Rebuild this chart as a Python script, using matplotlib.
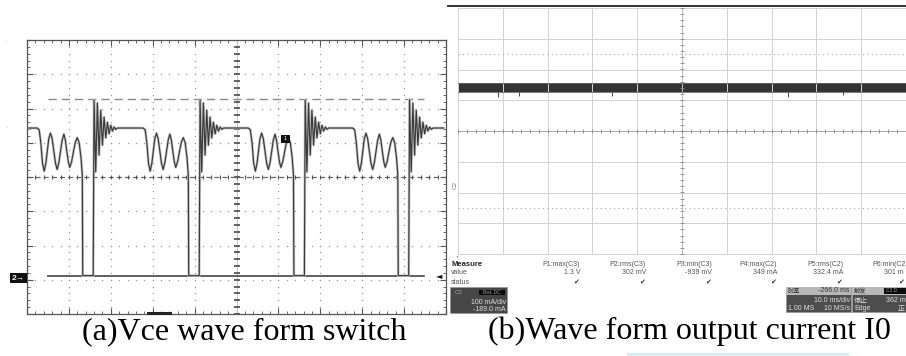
import numpy as np
import matplotlib
matplotlib.use("Agg")
import matplotlib.pyplot as plt
from matplotlib.patches import Rectangle
from matplotlib.lines import Line2D

# ============================================================
# DATA (screen divisions)
# ============================================================

# (a) Vce: spike positions and levels
spike_pos = [1.60, 4.13, 6.64, 9.13]
trace_start = 0.05
trace_end = 9.94
plateau_level = 1.43
ground_level = -2.88
cursor_level = 2.27

# ringing before the turn-on edge (relative x, level)
pre_dx = [-1.36, -1.31, -1.27, -1.23, -1.19, -1.15, -1.115, -1.08, -1.04,
          -1.00, -0.96, -0.92, -0.88, -0.84, -0.80, -0.76, -0.72, -0.685,
          -0.65, -0.615, -0.58, -0.535, -0.49, -0.445, -0.40, -0.355,
          -0.31, -0.28, -0.27, -0.02]
pre_y = [1.43, 1.38, 1.00, 0.40, 0.17, 0.40, 0.75, 1.12, 1.28,
         1.12, 0.75, 0.40, 0.22, 0.42, 0.75, 1.08, 1.25, 1.08,
         0.75, 0.45, 0.28, 0.45, 0.75, 1.02, 1.15, 1.00,
         0.55, 0.05, -2.88, -2.88]

# damped ringing after the spike (relative x, level)
post_dx = [0.0, 0.04, 0.08, 0.12, 0.16, 0.20, 0.24, 0.28, 0.32, 0.36,
           0.40, 0.44, 0.48, 0.52, 0.56]
post_y = [2.25, 0.15, 2.16, 0.64, 1.95, 0.93, 1.75, 1.14, 1.60, 1.26,
          1.51, 1.34, 1.46, 1.39, 1.43]

# (b) output current: noisy band and a few spikes
band_lo = 1.28
band_hi = 1.55
noise_spike_x = [0.90, 1.37, 3.44, 7.37, 8.60]
noise_spike_lo = [1.12, 1.15, 1.14, 1.10, 1.16]

# measure table (last column is cut by the screenshot edge)
meas_headers = ["P1:max(C3)", "P2:rms(C3)", "P3:min(C3)",
                "P4:max(C2)", "P5:rms(C2)", "P6:min(C2"]
meas_values = ["1.3 V", "302 mV", "-939 mV", "349 mA", "332.4 mA", "301 m"]

caption_a = "(a)Vce wave form switch"
caption_b = "(b)Wave form output current I0"

# ============================================================
# FIGURE
# ============================================================

W, H = 906, 356
fig = plt.figure(figsize=(W / 100, H / 100), dpi=100)
fig.patch.set_facecolor("white")

SANS = ["Liberation Sans", "DejaVu Sans"]
CJK = ["Noto Sans CJK SC", "DejaVu Sans"]


def fx(x):
    return x / W


def fy(y):
    return 1 - y / H


def rect(x0, y0, x1, y1, color, ec="none", lw=0):
    fig.patches.append(Rectangle((fx(x0), fy(y1)), (x1 - x0) / W, (y1 - y0) / H,
                                 transform=fig.transFigure, facecolor=color,
                                 edgecolor=ec, linewidth=lw))


def ftext(x, y, s, size=5, color="#555555", ha="left", va="center", family=SANS, **kw):
    fig.text(fx(x), fy(y), s, fontsize=size, color=color, ha=ha, va=va,
             family=family, **kw)


# ============================================================
# (a) Vce panel
# ============================================================

ax1 = fig.add_axes([fx(27), fy(314), (446 - 27) / W, (314 - 40) / H])
ax1.set_xlim(0, 10)
ax1.set_ylim(-4, 4)
ax1.set_xticks(range(11))
ax1.set_yticks(range(-4, 5))
ax1.set_xticks(np.arange(0, 10.01, 0.2), minor=True)
ax1.set_yticks(np.arange(-4, 4.01, 0.2), minor=True)
ax1.tick_params(which="both", direction="in", top=True, right=True,
                labelbottom=False, labelleft=False, color="#555555")
ax1.tick_params(which="major", length=4, width=0.8)
ax1.tick_params(which="minor", length=2, width=0.6)
for sp in ax1.spines.values():
    sp.set_color("#555555")
    sp.set_linewidth(0.9)

# dotted grid
fine_y = np.arange(-4, 4.01, 0.2)
fine_x = np.arange(0, 10.01, 0.2)
for gx in [1, 2, 3, 4, 6, 7, 8, 9]:
    ax1.plot([gx] * len(fine_y), fine_y, ls="none", marker="s", ms=0.9,
             color="#9a9a9a", mew=0)
for gy in [-3, -2, -1, 1, 2, 3]:
    ax1.plot(fine_x, [gy] * len(fine_x), ls="none", marker="s", ms=0.9,
             color="#9a9a9a", mew=0)

# centre cross
ax1.axvline(5, color="#c8c8c8", lw=0.8)
ax1.plot([5] * len(fine_y), fine_y, ls="none", marker="_", ms=5, mew=1.3,
         color="#555555")
ax1.axhline(0, color="#666666", lw=0.9, dashes=(4, 2.5))
ax1.plot(fine_x, [0] * len(fine_x), ls="none", marker="|", ms=3.5, mew=0.8,
         color="#555555")

# cursor and ground reference
ax1.plot([0.5, 9.47], [cursor_level, cursor_level], color="#8a8a8a", lw=1.0,
         dashes=(6, 3.5))
ax1.plot([0.5, 9.47], [ground_level, ground_level], color="#444444", lw=1.2)

# build Vce trace from the cycle templates
vx = [trace_start]
vy = [plateau_level]
for s in spike_pos:
    vx += [s + d for d in pre_dx] + [s + d for d in post_dx]
    vy += pre_y + post_y
vx.append(trace_end)
vy.append(plateau_level)
ax1.plot(vx, vy, color="#c6c6c6", lw=1.9, solid_joinstyle="round")
ax1.plot(vx, vy, color="#3a3a3a", lw=0.85)

# markers around panel (a)
rect(10, 273, 27, 283, "#111111")
ftext(18.5, 278, "2→", size=6, color="white", ha="center", weight="bold")
rect(281, 135, 290, 143, "#111111")
ftext(285.5, 139, "1", size=4, color="white", ha="center")
rect(147, 312, 172, 315, "#222222")
ftext(439, 276, "◄", size=6, color="#111111", ha="center", family=["DejaVu Sans"])
ftext(7, 40, ".", size=4, color="#888888", ha="center")
ftext(7, 127, ".", size=4, color="#888888", ha="center")

# ============================================================
# (b) output current panel
# ============================================================

ax2 = fig.add_axes([fx(458), fy(254), (906 - 458) / W, (254 - 8) / H])
ax2.set_xlim(0, 10)
ax2.set_ylim(-4, 4)
ax2.axis("off")
for gx in range(11):
    ax2.axvline(gx, color="#d2d2d2", lw=0.7, clip_on=False)
for gy in range(-4, 5):
    ax2.axhline(gy, color="#d2d2d2", lw=0.7, clip_on=False)
ax2.axhline(0, color="#a8a8a8", lw=0.7)
ax2.axvline(5, color="#bcbcbc", lw=0.7)
ax2.plot(fine_x, [0] * len(fine_x), ls="none", marker="|", ms=3, mew=0.6,
         color="#8a8a8a")
ax2.plot([5] * len(fine_y), fine_y, ls="none", marker="_", ms=3, mew=0.6,
         color="#8a8a8a")
for gy in [2.5, -2.5]:
    ax2.axhline(gy, color="#a8a8a8", lw=0.8, dashes=(1, 3))

ax2.fill_between([0.0, 10.0], [band_lo, band_lo], [band_hi, band_hi],
                 color="#333333", lw=0)
ax2.plot([0, 10], [band_hi, band_hi], color="#666666", lw=0.6)
ax2.plot([0, 10], [band_lo, band_lo], color="#666666", lw=0.6)
ax2.vlines(noise_spike_x, noise_spike_lo, [band_lo] * len(noise_spike_x),
           color="#444444", lw=0.7)

fig.lines.append(Line2D([fx(448), fx(906)], [fy(6), fy(6)], transform=fig.transFigure,
                        color="#333333", lw=1.4))
ftext(455, 185, "C2", size=4.5, color="#777777", ha="center", rotation=90)
ftext(457, 257, "+", size=4, color="#777777", ha="center")

# measure table
ftext(451, 264, "Measure", size=5.5, color="#222222", weight="bold")
ftext(451, 273, "value", size=5, color="#555555")
ftext(451, 282, "status", size=5, color="#555555")
col_right = [580, 646, 712, 777, 843]
for xr, hd, vl in zip(col_right, meas_headers[:5], meas_values[:5]):
    ftext(xr, 264, hd, size=5, color="#555555", ha="right")
    ftext(xr, 273, vl, size=5, color="#555555", ha="right")
    ftext(xr - 4, 282, "✔", size=5, color="#333333", ha="center",
          family=["DejaVu Sans"])
# last column, cut at the right edge
ftext(872, 264, meas_headers[5], size=5, color="#555555")
ftext(884, 273, meas_values[5], size=5, color="#555555")
ftext(901, 282, "✔", size=5, color="#333333", ha="center", family=["DejaVu Sans"])

# channel box
rect(450, 287, 507, 313, "#474747", ec="#9a9a9a", lw=0.6)
ftext(455, 293, "C2", size=4.5, color="#a0a0a0")
rect(479, 290, 505, 295, "#0d0d0d")
ftext(492, 292.5, "BwL DC", size=3.5, color="#9a9a9a", ha="center")
ftext(506, 302, "100 mA/div", size=5, color="#e0e0e0", ha="right")
ftext(506, 309.5, "-189.0 mA", size=5, color="#e0e0e0", ha="right")

# timebase box
rect(786, 287, 851, 312, "#4d4d4d", ec="#9a9a9a", lw=0.6)
rect(786, 287, 851, 295, "#b8b8b8")
ftext(788, 291, "时基", size=4.5, color="#333333", family=CJK)
ftext(850, 291, "-266.0 ms", size=5, color="#333333", ha="right")
ftext(850, 301, "10.0 ms/div", size=5, color="#e0e0e0", ha="right")
ftext(788, 309, "1.00 MS", size=5, color="#e0e0e0")
ftext(850, 309, "10 MS/s", size=5, color="#e0e0e0", ha="right")

# trigger box
rect(852, 287, 910, 312, "#4d4d4d", ec="#9a9a9a", lw=0.6)
rect(852, 287, 910, 295, "#b8b8b8")
ftext(854, 291, "触发", size=4.5, color="#333333", family=CJK)
rect(884, 288, 910, 294, "#0d0d0d")
ftext(886, 291, "C2 D", size=3.5, color="#9a9a9a")
ftext(854, 301, "停止", size=5, color="#e0e0e0", family=CJK)
ftext(886, 301, "362 m", size=5, color="#e0e0e0")
ftext(854, 309, "Edge", size=5, color="#e0e0e0")
ftext(898, 309, "正", size=5, color="#e0e0e0", family=CJK)

# ============================================================
# CAPTIONS
# ============================================================

fig.text(fx(82), fy(339), caption_a, fontsize=23, family=["Liberation Serif"],
         ha="left", va="baseline", color="black")
fig.text(fx(488), fy(339), caption_b, fontsize=23, family=["Liberation Serif"],
         ha="left", va="baseline", color="black")
rect(627, 353, 848, 356, "#d9f0f6", ec="#c2e4ee", lw=0.5)

fig.savefig("out.png", dpi=100)
